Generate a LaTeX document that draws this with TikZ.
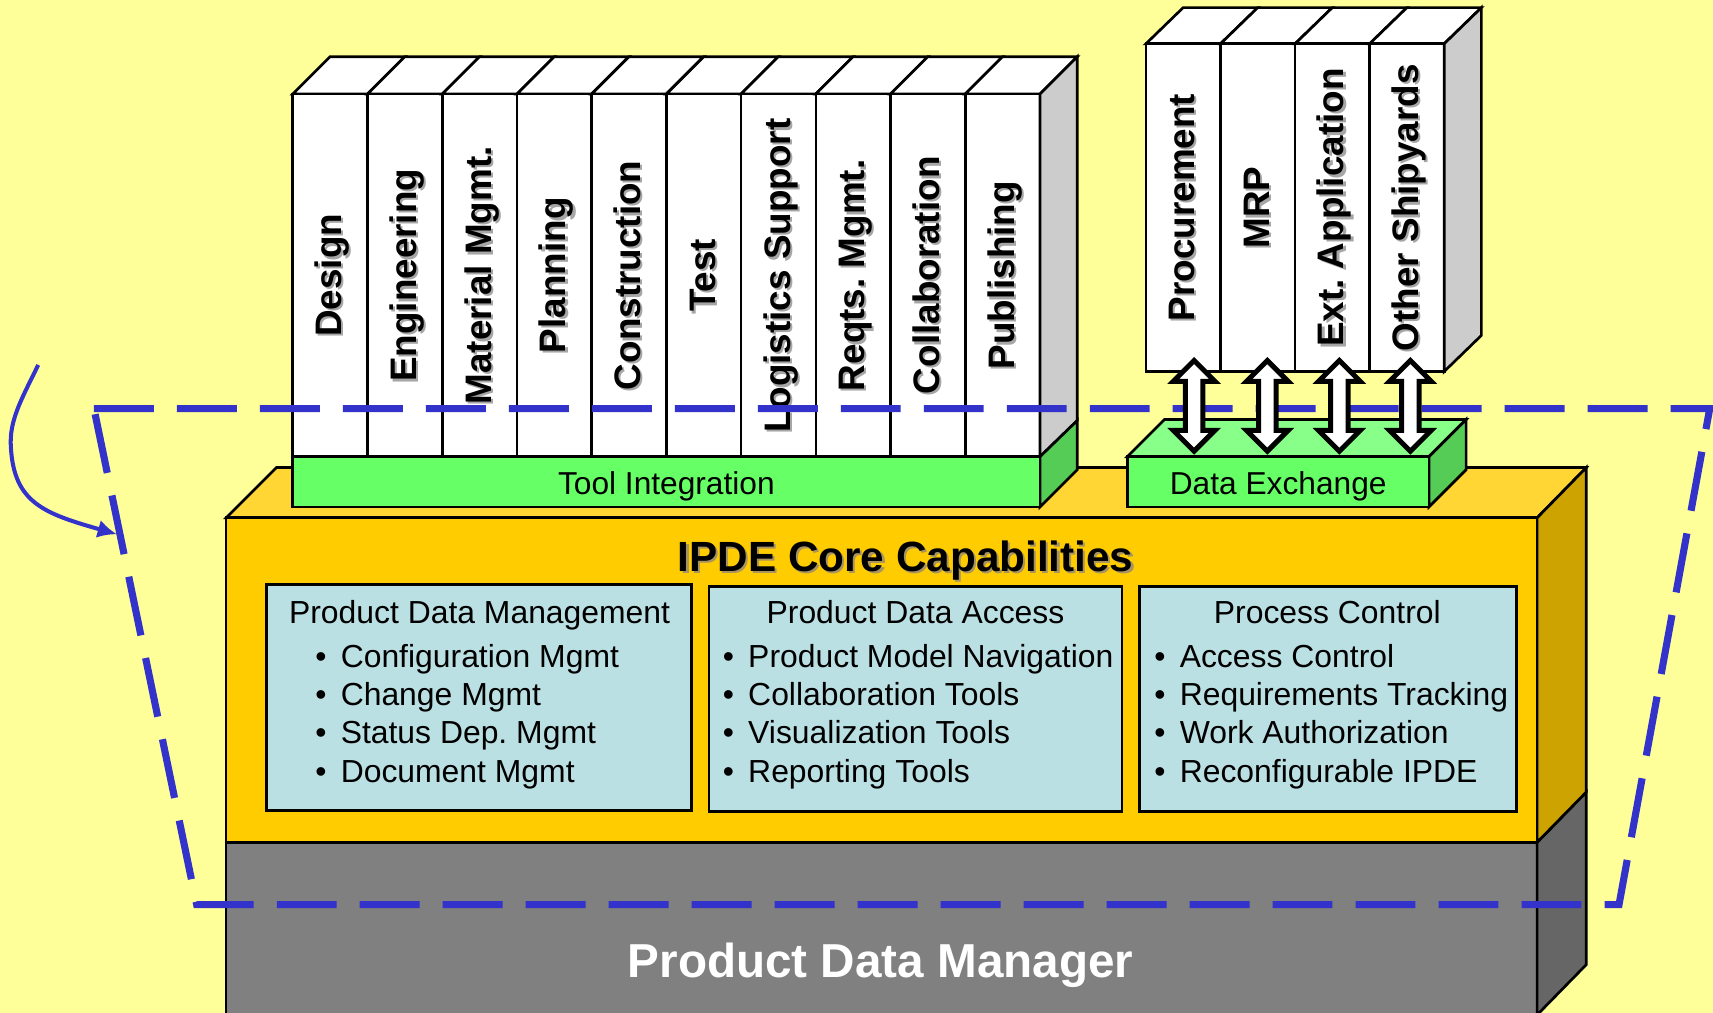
\documentclass[tikz,border=0pt]{standalone}
\usepackage{fontspec}
\setmainfont{Liberation Sans}
\usetikzlibrary{arrows.meta, calc}
\definecolor{paper}{HTML}{FFFF99}
\definecolor{corefront}{HTML}{FFCC00}
\definecolor{coretop}{HTML}{FFD633}
\definecolor{coreside}{HTML}{CCA300}
\definecolor{pdmfront}{HTML}{808080}
\definecolor{pdmside}{HTML}{666666}
\definecolor{barfront}{HTML}{66FF66}
\definecolor{bartop}{HTML}{88FF88}
\definecolor{barside}{HTML}{55CC55}
\definecolor{colside}{HTML}{CCCCCC}
\definecolor{capblue}{HTML}{BBE0E3}
\definecolor{fenceblue}{HTML}{3333CC}
\colorlet{labelshade}{black!35}
\definecolor{titleshade}{HTML}{A89460}
\frenchspacing

\begin{document}
\begin{tikzpicture}[x=0.01cm, y=-0.01cm,
    edge/.style={draw=black, line width=0.7pt},
    collabel/.style={rotate=90, inner sep=0pt, text height=7.5pt, text depth=1.5pt,
      font=\fontsize{9.6}{11}\selectfont\bfseries},
    barlabel/.style={anchor=base, inner sep=0pt, font=\fontsize{8.25}{10}\selectfont},
    boxtext/.style={inner sep=0pt, font=\fontsize{8.3}{10}\selectfont},
    capbox/.style={edge, fill=capblue},
    dxarrow/.style={draw=black, fill=white, line width=1.3pt},
    fence/.style={draw=fenceblue, line width=1.85pt, dash pattern=on 15.6pt off 6pt},
    pointer/.style={draw=fenceblue, line width=1.05pt, -{Latex[length=5pt, width=4.8pt]}},
  ]
  \fill[paper] (0,0) rectangle (1568,927);
  \useasboundingbox (0,0) rectangle (1568,927);

  % base block
  \draw[edge, fill=pdmfront] (207,771) rectangle (1407,935);
  \draw[edge, fill=pdmside] (1407,771) -- (1452,725) -- (1452,883) -- (1407,929) -- cycle;
  \node[anchor=base, inner sep=0pt, text=white, font=\fontsize{12.4}{14}\selectfont\bfseries]
    (pdm) at (806,895) {Product Data Manager};

  % core capabilities block
  \draw[edge, fill=coretop] (207,474) -- (253,428) -- (1452,428) -- (1407,474) -- cycle;
  \draw[edge, fill=coreside] (1407,474) -- (1452,428) -- (1452,725) -- (1407,771) -- cycle;
  \draw[edge, fill=corefront] (207,474) rectangle (1407,771);
  \node[anchor=base, inner sep=0pt, text=titleshade, font=\fontsize{11}{13}\selectfont\bfseries]
    (coreshade) at (831,525) {IPDE Core Capabilities};
  \node[anchor=base, inner sep=0pt, font=\fontsize{11}{13}\selectfont\bfseries]
    (core) at (829,523) {IPDE Core Capabilities};

  % capability boxes
  \draw[capbox] (244,535) rectangle (633,742);
  \node[boxtext, anchor=base] (pdmhead) at (439,571) {Product Data Management};
  \foreach \item [count=\j] in {Configuration Mgmt, Change Mgmt, Status Dep. Mgmt, Document Mgmt}
    \node[boxtext, anchor=base west] (pdm\j) at (288,576+35*\j) {\textbullet\hspace{3.7pt}\item};

  \draw[capbox] (649,537) rectangle (1027,743);
  \node[boxtext, anchor=base] (pdahead) at (838,571) {Product Data Access};
  \foreach \item [count=\j] in {Product Model Navigation, Collaboration Tools, Visualization Tools, Reporting Tools}
    \node[boxtext, anchor=base west] (pda\j) at (661,576+35*\j) {\textbullet\hspace{3.7pt}\item};

  \draw[capbox] (1043,537) rectangle (1388,743);
  \node[boxtext, anchor=base] (pchead) at (1215,571) {Process Control};
  \foreach \item [count=\j] in {Access Control, Requirements Tracking, Work Authorization, Reconfigurable IPDE}
    \node[boxtext, anchor=base west] (pc\j) at (1056,576+35*\j) {\textbullet\hspace{3.7pt}\item};

  % tool columns
  \foreach \lab [count=\i] in {Design, Engineering, Material Mgmt., Planning, Construction,
      Test, Logistics Support, Reqts. Mgmt., Collaboration, Publishing} {
    \pgfmathsetmacro\xl{268+68.4*(\i-1)}
    \pgfmathsetmacro\xr{268+68.4*\i}
    \draw[edge, fill=white] (\xl,86) -- (\xl+34,52) -- (\xr+34,52) -- (\xr,86) -- cycle;
    \draw[edge, fill=white] (\xl,86) rectangle (\xr,418);
    \node[collabel, text=labelshade] (toolshade\i) at (\xl/2+\xr/2+2,254) {\lab};
    \node[collabel] (tool\i) at (\xl/2+\xr/2,252) {\lab};
  }
  \draw[edge, fill=colside] (952,86) -- (986,52) -- (986,385) -- (952,418) -- cycle;
  \draw[edge, fill=barside] (952,418) -- (986,385) -- (986,430) -- (952,464) -- cycle;
  \draw[edge, fill=barfront] (268,418) rectangle (952,464);
  \node[barlabel] (toolint) at (610,453) {Tool Integration};

  % data exchange bar
  \draw[edge, fill=bartop] (1032,418) -- (1066,384) -- (1342,384) -- (1308,418) -- cycle;
  \draw[edge, fill=barside] (1308,418) -- (1342,384) -- (1342,430) -- (1308,464) -- cycle;
  \draw[edge, fill=barfront] (1032,418) rectangle (1308,464);
  \node[barlabel] (dx) at (1170,453) {Data Exchange};

  % external columns
  \foreach \lab [count=\i] in {Procurement, MRP, Ext. Application, Other Shipyards} {
    \pgfmathsetmacro\xl{1049+68.25*(\i-1)}
    \pgfmathsetmacro\xr{1049+68.25*\i}
    \draw[edge, fill=white] (\xl,40) -- (\xl+34,7) -- (\xr+34,7) -- (\xr,40) -- cycle;
    \draw[edge, fill=white] (\xl,40) rectangle (\xr,340);
    \node[collabel, text=labelshade] (extshade\i) at (\xl/2+\xr/2+2,192) {\lab};
    \node[collabel] (ext\i) at (\xl/2+\xr/2,190) {\lab};
  }
  \draw[edge, fill=colside] (1322,40) -- (1356,7) -- (1356,307) -- (1322,340) -- cycle;

  % dashed boundary and its pointer
  \draw[fence] (86,374) -- (1565,374) -- (1482,828) -- (180,828) -- cycle;
  \coordinate (ps) at (35,334);
  \coordinate (pe) at (107,489);
  \draw[pointer] (ps) .. controls (20,365) and (8,385) .. (10,410)
    .. controls (13,460) and (40,470) .. (pe);

  % exchange arrows
  \foreach \x in {1093,1160,1226,1291}
    \draw[dxarrow] (\x,330) -- ++(19,19) -- ++(-11,0) -- ++(0,45) -- ++(11,0)
      -- ++(-19,19) -- ++(-19,-19) -- ++(11,0) -- ++(0,-45) -- ++(-11,0) -- cycle;
\end{tikzpicture}
\end{document}
